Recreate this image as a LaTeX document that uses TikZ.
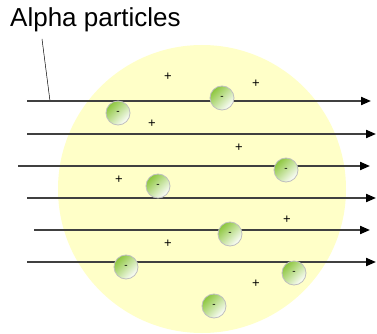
\documentclass[tikz,border=0pt]{standalone}
\usepackage{fontspec}
\setmainfont{Liberation Sans}
\usetikzlibrary{arrows.meta}
\definecolor{atomyellow}{RGB}{255,255,200}
\definecolor{elgreen}{RGB}{140,198,60}
\definecolor{raygray}{RGB}{64,64,64}

\begin{document}
\begin{tikzpicture}[x=1pt, y=-1pt, every node/.style={font=\fontsize{13}{15}\selectfont}]
\tikzset{
  el/.style={circle, draw=black!25, line width=0.8pt, minimum size=24pt, inner sep=0pt,
    top color=elgreen, bottom color=white, shading angle=45, font=\fontsize{10}{12}\selectfont},
  plus/.style={inner sep=0pt},
  ray/.style={draw=raygray, line width=2pt, -{Triangle[length=10pt,width=8pt,color=black]}}
}
\useasboundingbox (0,0) rectangle (377,334);

% --- atom ---
\fill[atomyellow] (202,189) circle[radius=144pt];

% --- label ---
\node[anchor=base west, inner sep=0pt, font=\fontsize{26}{30}\selectfont] (lbl) at (10,27) {Alpha particles};
\coordinate (hit) at (50,101);
\draw[line width=0.5pt] (42,39) -- (hit);

% --- rays ---
\coordinate (s1) at (27,101);  \coordinate (t1) at (371,101);
\coordinate (s2) at (27,134);  \coordinate (t2) at (376,134);
\coordinate (s3) at (18,166);  \coordinate (t3) at (370,166);
\coordinate (s4) at (27,198);  \coordinate (t4) at (376,198);
\coordinate (s5) at (34,230);  \coordinate (t5) at (370,230);
\coordinate (s6) at (27,262);  \coordinate (t6) at (376,262);
\foreach \i in {1,...,6} \draw[ray] (s\i) -- (t\i);

% --- positive charges ---
\node[plus] (p1) at (168,77) {+};
\node[plus] (p2) at (256,84) {+};
\node[plus] (p3) at (152,124) {+};
\node[plus] (p4) at (239,148) {+};
\node[plus] (p5) at (119,180) {+};
\node[plus] (p6) at (287,220) {+};
\node[plus] (p7) at (168,244) {+};
\node[plus] (p8) at (256,284) {+};

% --- electrons ---
\node[el] (e1) at (118,113) {-};
\node[el] (e2) at (222,98) {-};
\node[el] (e3) at (286,170) {-};
\node[el] (e4) at (158,186) {-};
\node[el] (e5) at (230,234) {-};
\node[el] (e6) at (126,267) {-};
\node[el] (e7) at (294,273) {-};
\node[el] (e8) at (214,306) {-};
\end{tikzpicture}
\end{document}
